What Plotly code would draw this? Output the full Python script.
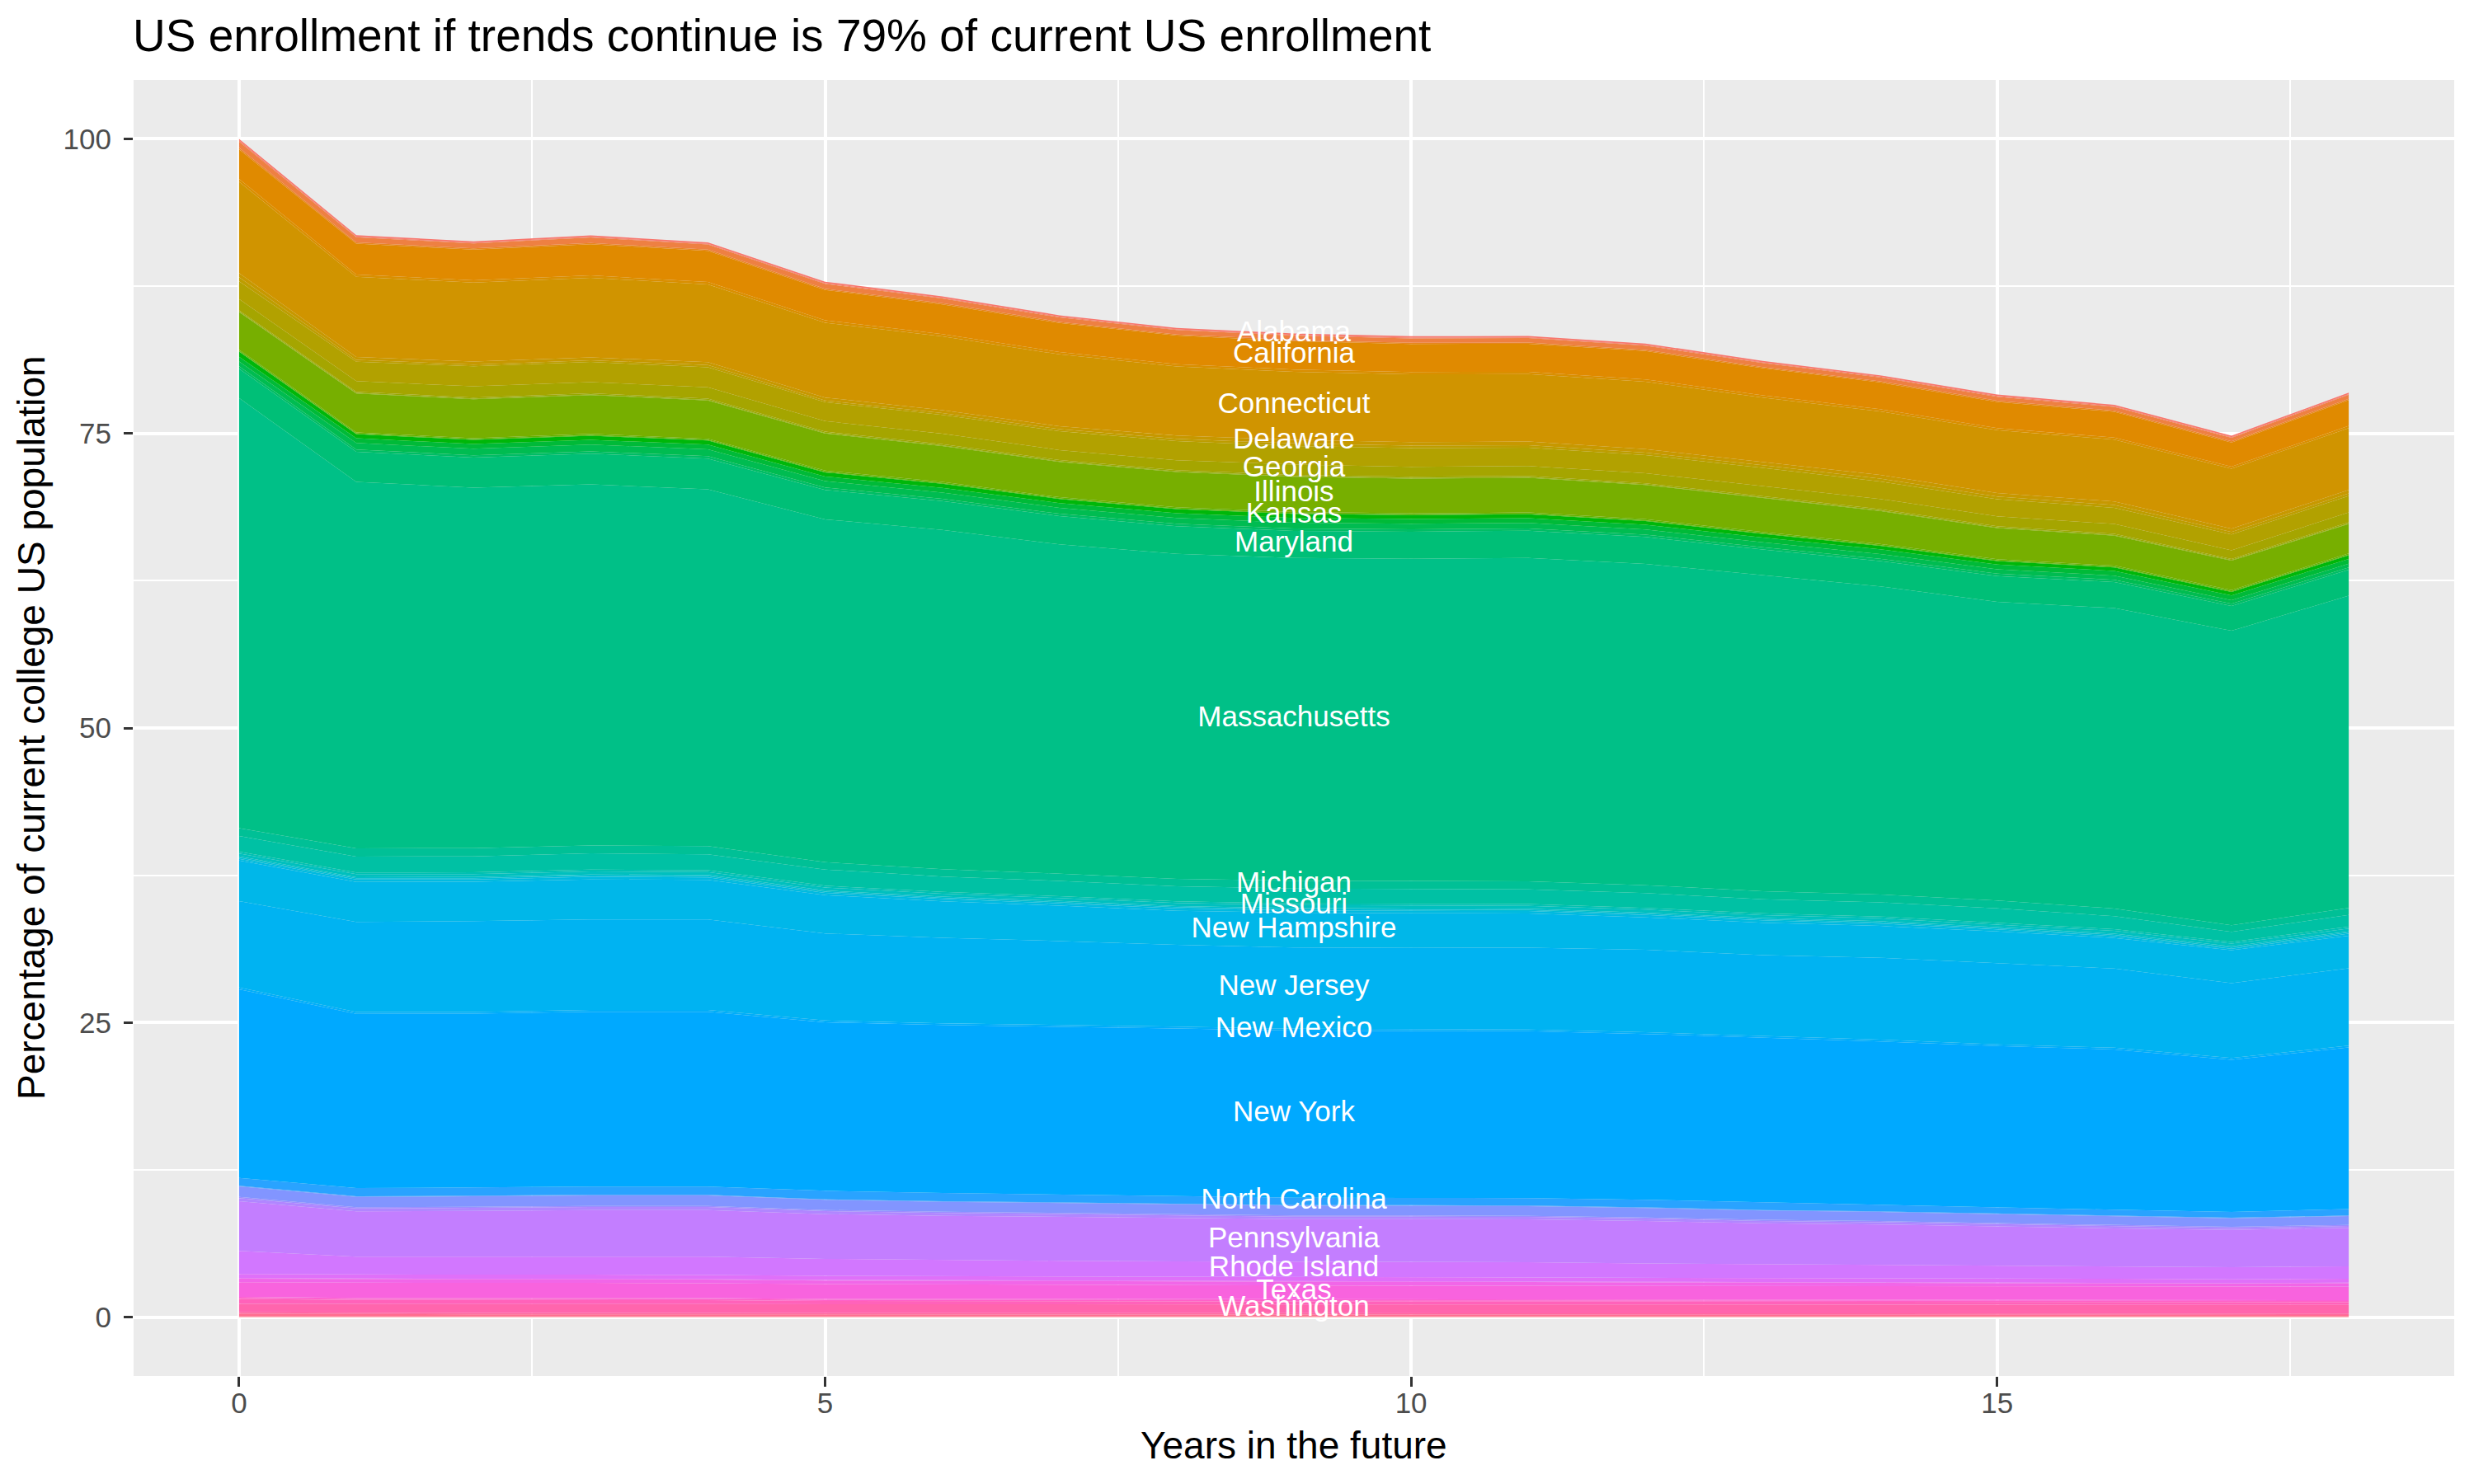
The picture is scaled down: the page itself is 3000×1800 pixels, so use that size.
import math
import plotly.graph_objects as go

# Projected share of current college enrollment, by home state, for years 0..18
years = list(range(19))

alabama = [0.15, 0.12, 0.12, 0.12, 0.12, 0.12, 0.12, 0.12, 0.12, 0.12, 0.12, 0.12, 0.12, 0.12, 0.12, 0.12, 0.12, 0.12, 0.12]
alaska = [0.08, 0.06, 0.06, 0.06, 0.06, 0.06, 0.06, 0.06, 0.06, 0.06, 0.06, 0.06, 0.06, 0.06, 0.06, 0.06, 0.06, 0.06, 0.06]
arizona = [0.52, 0.44, 0.42, 0.47, 0.44, 0.42, 0.40, 0.38, 0.38, 0.37, 0.38, 0.38, 0.36, 0.34, 0.33, 0.34, 0.32, 0.30, 0.34]
arkansas = [0.15, 0.10, 0.10, 0.10, 0.10, 0.10, 0.10, 0.10, 0.10, 0.10, 0.10, 0.10, 0.10, 0.10, 0.10, 0.10, 0.10, 0.10, 0.10]
california = [2.50, 2.62, 2.60, 2.65, 2.65, 2.58, 2.52, 2.46, 2.42, 2.40, 2.37, 2.38, 2.40, 2.30, 2.27, 2.22, 2.18, 2.05, 2.20]
colorado = [0.25, 0.20, 0.20, 0.20, 0.20, 0.20, 0.20, 0.20, 0.20, 0.20, 0.20, 0.20, 0.20, 0.19, 0.19, 0.18, 0.18, 0.17, 0.18]
connecticut = [7.75, 6.80, 6.70, 6.75, 6.60, 6.35, 6.25, 6.10, 5.85, 5.78, 5.75, 5.72, 5.72, 5.45, 5.38, 5.33, 5.25, 5.10, 5.25]
delaware = [0.35, 0.25, 0.25, 0.25, 0.25, 0.25, 0.25, 0.25, 0.28, 0.30, 0.30, 0.30, 0.30, 0.30, 0.32, 0.30, 0.30, 0.28, 0.30]
dist_columbia = [0.35, 0.15, 0.15, 0.15, 0.18, 0.15, 0.15, 0.17, 0.20, 0.22, 0.22, 0.22, 0.20, 0.22, 0.25, 0.23, 0.23, 0.20, 0.22]
florida = [1.50, 1.65, 1.70, 1.70, 1.70, 1.60, 1.60, 1.60, 1.62, 1.57, 1.58, 1.55, 1.55, 1.55, 1.48, 1.45, 1.38, 1.35, 1.40]
georgia = [0.95, 0.90, 0.95, 0.95, 0.97, 0.90, 0.90, 0.85, 0.85, 0.88, 0.85, 0.85, 0.85, 0.85, 0.87, 0.85, 0.83, 0.73, 0.83]
hawaii = [0.10, 0.10, 0.10, 0.10, 0.10, 0.10, 0.10, 0.10, 0.10, 0.10, 0.10, 0.10, 0.10, 0.10, 0.10, 0.10, 0.10, 0.10, 0.10]
idaho = [0.05, 0.05, 0.05, 0.05, 0.05, 0.05, 0.05, 0.05, 0.05, 0.05, 0.05, 0.05, 0.05, 0.05, 0.05, 0.05, 0.05, 0.05, 0.05]
illinois = [3.20, 3.30, 3.30, 3.30, 3.25, 3.15, 3.05, 3.00, 3.00, 3.00, 2.95, 2.95, 2.90, 2.90, 2.80, 2.65, 2.55, 2.50, 2.50]
indiana = [0.10, 0.10, 0.10, 0.10, 0.10, 0.10, 0.10, 0.10, 0.10, 0.10, 0.10, 0.10, 0.10, 0.10, 0.10, 0.10, 0.10, 0.10, 0.10]
iowa = [0.05, 0.05, 0.05, 0.05, 0.05, 0.05, 0.05, 0.05, 0.05, 0.05, 0.05, 0.05, 0.05, 0.05, 0.05, 0.05, 0.05, 0.05, 0.05]
kansas = [0.45, 0.35, 0.35, 0.35, 0.35, 0.35, 0.35, 0.35, 0.35, 0.35, 0.33, 0.33, 0.32, 0.31, 0.30, 0.30, 0.30, 0.30, 0.31]
kentucky = [0.40, 0.40, 0.40, 0.40, 0.40, 0.40, 0.40, 0.40, 0.40, 0.40, 0.40, 0.40, 0.40, 0.40, 0.40, 0.40, 0.40, 0.40, 0.40]
louisiana = [0.40, 0.55, 0.55, 0.58, 0.58, 0.54, 0.52, 0.50, 0.50, 0.50, 0.48, 0.47, 0.44, 0.42, 0.40, 0.37, 0.35, 0.30, 0.32]
maine = [0.20, 0.20, 0.20, 0.20, 0.20, 0.20, 0.20, 0.20, 0.20, 0.20, 0.20, 0.20, 0.20, 0.20, 0.20, 0.20, 0.20, 0.20, 0.20]
maryland = [2.50, 2.55, 2.55, 2.60, 2.62, 2.50, 2.45, 2.40, 2.35, 2.30, 2.30, 2.30, 2.28, 2.20, 2.15, 2.20, 2.20, 2.10, 2.20]
massachusetts = [36.50, 31.10, 30.60, 30.65, 30.27, 29.10, 28.80, 27.95, 27.59, 27.39, 27.34, 27.45, 27.27, 26.80, 26.15, 25.35, 25.50, 25.00, 26.50]
michigan = [0.67, 0.70, 0.70, 0.67, 0.70, 0.62, 0.62, 0.62, 0.62, 0.66, 0.68, 0.68, 0.68, 0.68, 0.67, 0.66, 0.65, 0.55, 0.60]
minnesota = [1.33, 1.35, 1.35, 1.38, 1.35, 1.38, 1.30, 1.30, 1.28, 1.26, 1.26, 1.25, 1.25, 1.20, 1.20, 1.20, 1.10, 0.85, 1.00]
mississippi = [0.15, 0.15, 0.15, 0.15, 0.15, 0.15, 0.15, 0.15, 0.15, 0.15, 0.15, 0.15, 0.15, 0.15, 0.15, 0.15, 0.15, 0.15, 0.15]
missouri = [0.25, 0.25, 0.25, 0.26, 0.26, 0.25, 0.25, 0.25, 0.25, 0.25, 0.25, 0.25, 0.25, 0.25, 0.25, 0.24, 0.24, 0.23, 0.24]
montana = [0.10, 0.10, 0.10, 0.10, 0.10, 0.10, 0.10, 0.10, 0.10, 0.10, 0.10, 0.10, 0.10, 0.10, 0.10, 0.10, 0.10, 0.10, 0.10]
nebraska = [0.10, 0.10, 0.10, 0.10, 0.10, 0.10, 0.10, 0.10, 0.10, 0.10, 0.10, 0.10, 0.10, 0.10, 0.10, 0.10, 0.10, 0.10, 0.10]
nevada = [0.15, 0.20, 0.20, 0.22, 0.22, 0.20, 0.20, 0.20, 0.20, 0.20, 0.20, 0.20, 0.20, 0.20, 0.20, 0.17, 0.16, 0.12, 0.18]
new_hampshire = [3.45, 3.40, 3.35, 3.40, 3.35, 3.25, 3.10, 3.00, 2.90, 2.95, 2.95, 2.90, 2.75, 2.75, 2.70, 2.70, 2.60, 2.80, 2.75]
new_jersey = [7.33, 7.65, 7.70, 7.69, 7.69, 7.39, 7.25, 7.10, 6.94, 6.90, 6.87, 6.95, 7.00, 6.88, 6.95, 6.88, 6.72, 6.36, 6.57]
new_mexico = [0.15, 0.15, 0.15, 0.15, 0.15, 0.15, 0.15, 0.15, 0.15, 0.15, 0.15, 0.15, 0.15, 0.15, 0.15, 0.15, 0.15, 0.15, 0.15]
new_york = [16.00, 14.79, 14.75, 14.84, 14.84, 14.30, 14.25, 14.25, 14.25, 14.18, 14.19, 14.16, 14.07, 13.95, 13.83, 13.67, 13.60, 12.91, 13.72]
north_carolina = [0.68, 0.70, 0.70, 0.70, 0.70, 0.72, 0.70, 0.70, 0.66, 0.63, 0.62, 0.63, 0.65, 0.65, 0.60, 0.55, 0.52, 0.50, 0.55]
north_dakota = [0.05, 0.05, 0.05, 0.05, 0.05, 0.05, 0.05, 0.05, 0.05, 0.05, 0.05, 0.05, 0.05, 0.05, 0.05, 0.05, 0.05, 0.05, 0.05]
ohio = [0.89, 0.88, 0.88, 0.88, 0.88, 0.86, 0.85, 0.84, 0.83, 0.83, 0.83, 0.82, 0.80, 0.78, 0.77, 0.76, 0.74, 0.72, 0.74]
oklahoma = [0.10, 0.10, 0.10, 0.10, 0.10, 0.10, 0.10, 0.10, 0.10, 0.10, 0.10, 0.10, 0.10, 0.10, 0.10, 0.10, 0.10, 0.10, 0.10]
oregon = [0.26, 0.25, 0.25, 0.25, 0.25, 0.25, 0.24, 0.23, 0.22, 0.21, 0.20, 0.20, 0.20, 0.19, 0.19, 0.18, 0.17, 0.15, 0.15]
pennsylvania = [4.22, 3.84, 3.89, 3.96, 3.96, 3.80, 3.75, 3.72, 3.66, 3.61, 3.61, 3.64, 3.61, 3.49, 3.43, 3.31, 3.22, 3.17, 3.27]
rhode_island = [1.96, 1.52, 1.53, 1.53, 1.55, 1.44, 1.37, 1.33, 1.30, 1.31, 1.33, 1.28, 1.20, 1.16, 1.13, 1.10, 1.06, 1.04, 1.06]
south_carolina = [0.35, 0.35, 0.35, 0.35, 0.35, 0.35, 0.36, 0.36, 0.36, 0.36, 0.35, 0.36, 0.35, 0.34, 0.34, 0.34, 0.33, 0.32, 0.33]
south_dakota = [0.05, 0.05, 0.05, 0.05, 0.05, 0.05, 0.05, 0.05, 0.05, 0.05, 0.05, 0.05, 0.05, 0.05, 0.05, 0.05, 0.05, 0.05, 0.05]
tennessee = [0.30, 0.30, 0.30, 0.30, 0.30, 0.30, 0.31, 0.32, 0.32, 0.31, 0.31, 0.31, 0.30, 0.30, 0.29, 0.29, 0.29, 0.28, 0.29]
texas = [1.24, 1.28, 1.27, 1.28, 1.26, 1.25, 1.22, 1.19, 1.18, 1.16, 1.17, 1.16, 1.17, 1.16, 1.16, 1.15, 1.14, 1.13, 1.14]
utah = [0.08, 0.08, 0.08, 0.08, 0.08, 0.08, 0.08, 0.08, 0.08, 0.08, 0.08, 0.08, 0.08, 0.08, 0.08, 0.08, 0.08, 0.08, 0.08]
vermont = [0.10, 0.10, 0.10, 0.10, 0.10, 0.10, 0.10, 0.10, 0.10, 0.10, 0.10, 0.10, 0.10, 0.10, 0.10, 0.10, 0.10, 0.10, 0.10]
virginia = [0.42, 0.35, 0.35, 0.34, 0.34, 0.27, 0.26, 0.25, 0.24, 0.24, 0.24, 0.24, 0.23, 0.23, 0.23, 0.22, 0.22, 0.22, 0.22]
washington = [0.72, 0.74, 0.75, 0.75, 0.75, 0.76, 0.76, 0.77, 0.77, 0.77, 0.75, 0.76, 0.75, 0.74, 0.74, 0.74, 0.74, 0.72, 0.74]
west_virginia = [0.12, 0.12, 0.12, 0.12, 0.12, 0.12, 0.12, 0.12, 0.12, 0.12, 0.12, 0.12, 0.12, 0.12, 0.12, 0.12, 0.12, 0.12, 0.12]
wisconsin = [0.23, 0.19, 0.18, 0.18, 0.18, 0.17, 0.17, 0.16, 0.16, 0.16, 0.16, 0.15, 0.15, 0.15, 0.14, 0.14, 0.13, 0.13, 0.13]
wyoming = [0.05, 0.05, 0.05, 0.05, 0.05, 0.05, 0.05, 0.05, 0.05, 0.05, 0.05, 0.05, 0.05, 0.05, 0.05, 0.05, 0.05, 0.05, 0.05]

states = [
    "Alabama", "Alaska", "Arizona", "Arkansas", "California", "Colorado", "Connecticut",
    "Delaware", "District of Columbia", "Florida", "Georgia", "Hawaii", "Idaho", "Illinois",
    "Indiana", "Iowa", "Kansas", "Kentucky", "Louisiana", "Maine", "Maryland", "Massachusetts",
    "Michigan", "Minnesota", "Mississippi", "Missouri", "Montana", "Nebraska", "Nevada",
    "New Hampshire", "New Jersey", "New Mexico", "New York", "North Carolina", "North Dakota",
    "Ohio", "Oklahoma", "Oregon", "Pennsylvania", "Rhode Island", "South Carolina",
    "South Dakota", "Tennessee", "Texas", "Utah", "Vermont", "Virginia", "Washington",
    "West Virginia", "Wisconsin", "Wyoming",
]
values = [
    alabama, alaska, arizona, arkansas, california, colorado, connecticut,
    delaware, dist_columbia, florida, georgia, hawaii, idaho, illinois,
    indiana, iowa, kansas, kentucky, louisiana, maine, maryland, massachusetts,
    michigan, minnesota, mississippi, missouri, montana, nebraska, nevada,
    new_hampshire, new_jersey, new_mexico, new_york, north_carolina, north_dakota,
    ohio, oklahoma, oregon, pennsylvania, rhode_island, south_carolina,
    south_dakota, tennessee, texas, utah, vermont, virginia, washington,
    west_virginia, wisconsin, wyoming,
]

# states whose names are written on the chart (the rest overlap and are dropped)
labeled_states = [
    "Alabama", "California", "Connecticut", "Delaware", "Georgia", "Illinois", "Kansas",
    "Maryland", "Massachusetts", "Michigan", "Missouri", "New Hampshire", "New Jersey",
    "New Mexico", "New York", "North Carolina", "Pennsylvania", "Rhode Island", "Texas",
    "Washington",
]
label_year = 9


# ggplot2 default hue palette: hcl(h, c=100, l=65)
def hue_color(h, c=100.0, l=65.0):
    wx, wy, wz = 95.047, 100.0, 108.883
    un = 4 * wx / (wx + 15 * wy + 3 * wz)
    vn = 9 * wy / (wx + 15 * wy + 3 * wz)
    hr = math.radians(h)
    U, V = c * math.cos(hr), c * math.sin(hr)
    Y = wy * (((l + 16) / 116) ** 3 if l > 7.999592 else l / 903.3)
    u = U / (13 * l) + un
    v = V / (13 * l) + vn
    X = 9.0 * Y * u / (4 * v)
    Z = -X / 3 - 5 * Y + 3 * Y / v
    rgb = [
        (3.240479 * X - 1.537150 * Y - 0.498535 * Z) / wy,
        (-0.969256 * X + 1.875992 * Y + 0.041556 * Z) / wy,
        (0.055648 * X - 0.204043 * Y + 1.057311 * Z) / wy,
    ]
    out = []
    for ch in rgb:
        ch = 1.055 * ch ** (1 / 2.4) - 0.055 if ch > 0.0031308 else 12.92 * ch
        out.append(int(round(min(max(ch, 0), 1) * 255)))
    return "#%02X%02X%02X" % tuple(out)


n = len(states)
colors = [hue_color((15 + 360 * i / n) % 360) for i in range(n)]

font_family = "Liberation Sans, Arial, Helvetica, sans-serif"

fig = go.Figure()

# plotly stacks in trace order, so add from the last state (bottom) to the first (top)
for name, vals, col in reversed(list(zip(states, values, colors))):
    fig.add_trace(go.Scatter(
        x=years,
        y=vals,
        name=name,
        mode="lines",
        stackgroup="states",
        line=dict(width=0, color=col),
        fillcolor=col,
        showlegend=False,
    ))

# label each named state in the middle of its band at year 9
label_y = {}
running = 0.0
for name, vals in reversed(list(zip(states, values))):
    label_y[name] = running + vals[label_year] / 2
    running += vals[label_year]

fig.add_trace(go.Scatter(
    x=[label_year] * len(labeled_states),
    y=[label_y[s] for s in labeled_states],
    text=labeled_states,
    mode="text",
    textposition="middle center",
    textfont=dict(color="white", size=35, family=font_family),
    showlegend=False,
    hoverinfo="skip",
))

# the page body adds an 8px offset, so margins are set 8px smaller on the top/left
fig.update_layout(
    width=3000,
    height=1800,
    paper_bgcolor="white",
    plot_bgcolor="#EBEBEB",
    margin=dict(l=154, r=32, t=89, b=139),
    font=dict(family=font_family, color="black"),
    showlegend=False,
    title=dict(
        text="US enrollment if trends continue is 79% of current US enrollment",
        x=153 / 3000, xanchor="left",
        y=1 - 35 / 1800, yanchor="middle",
        font=dict(size=55, color="black", family=font_family),
    ),
    xaxis=dict(
        range=[-0.9, 18.9],
        tickvals=[0, 5, 10, 15],
        ticks="outside", ticklen=12, tickwidth=3, tickcolor="#333333",
        tickfont=dict(size=35, color="#4D4D4D"),
        ticklabelstandoff=-10,
        showgrid=True, gridcolor="white", gridwidth=4,
        minor=dict(tickvals=[2.5, 7.5, 12.5, 17.5], showgrid=True, gridcolor="white", gridwidth=2),
        zeroline=False, showline=False,
    ),
    yaxis=dict(
        range=[-5, 105],
        tickvals=[0, 25, 50, 75, 100],
        ticks="outside", ticklen=11, tickwidth=3, tickcolor="#333333",
        tickfont=dict(size=35, color="#4D4D4D"),
        ticklabelstandoff=8,
        showgrid=True, gridcolor="white", gridwidth=4,
        minor=dict(tickvals=[12.5, 37.5, 62.5, 87.5], showgrid=True, gridcolor="white", gridwidth=2),
        zeroline=False, showline=False,
    ),
    annotations=[
        dict(
            text="Years in the future",
            xref="paper", yref="paper", x=0.5, y=-(1753 - 1669) / 1572,
            xanchor="center", yanchor="middle", showarrow=False,
            font=dict(size=46, color="black", family=font_family),
        ),
        dict(
            text="Percentage of current college US population",
            xref="paper", yref="paper", x=-(162 - 38) / 2814, y=0.5,
            xanchor="center", yanchor="middle", textangle=-90, showarrow=False,
            font=dict(size=46, color="black", family=font_family),
        ),
    ],
)

fig.write_html("out.html")
